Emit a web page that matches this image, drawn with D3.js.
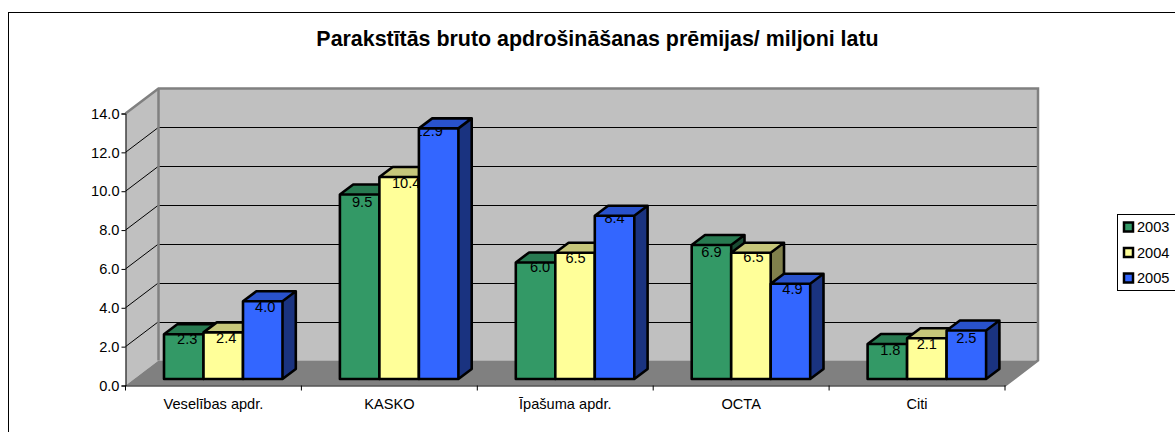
<!DOCTYPE html>
<html>
<head>
<meta charset="utf-8">
<title>Parakstītās bruto apdrošināšanas prēmijas</title>
<script src="https://cdn.jsdelivr.net/npm/d3@7"></script>
<style>
  html, body { margin: 0; padding: 0; background: #fff; overflow: hidden; }
  text { font-family: "Liberation Sans", Arial, sans-serif; fill: #000; }
</style>
</head>
<body>
<script>
/*
		CHART DATA
*/
var chartTitle = "Parakstītās bruto apdrošināšanas prēmijas/ miljoni latu";
var categories = ["Veselības apdr.", "KASKO", "Īpašuma apdr.", "OCTA", "Citi"];
var years = ["2003", "2004", "2005"];
var values2003 = [2.3, 9.5, 6.0, 6.9, 1.8];
var values2004 = [2.4, 10.4, 6.5, 6.5, 2.1];
var values2005 = [4.0, 12.9, 8.4, 4.9, 2.5];
var yTicks = [0, 2, 4, 6, 8, 10, 12, 14];

/*
		GLOBAL LAYOUT CONSTANTS
*/
var width = 1175;
var height = 432;
var plot = {left: 125.5, right: 1005, front: 385.5, top: 113.5};
var wallDepth = {x: 33, y: 25};   //floor/wall offset of the 3d box
var barDepth = {x: 13.3, y: 10};
var barFloor = 6.5;               //bars stand a bit behind the front edge
var fontSize = "14.6px";

//excel put the data labels a little off centre, [dx, dy] from bar front centre / top
var labelNudge = [
	[[3.5, 4.5], [2.5, 7], [4.5, 4], [0, 7], [3, 5.5]],
	[[3, 5], [7, 6], [0.5, 5], [2.5, 4], [0, 5.5]],
	[[2.5, 5.6], [-10, 2], [0, 1.5], [2, 4.7], [0, 7]]
];

var seriesValues = [values2003, values2004, values2005];
var fronts = ["#339966", "#FFFF99", "#3366FF"];
var tops = ["#287A51", "#C6C67A", "#2952CC"];
var sides = ["#1A4C33", "#80804C", "#1A3380"];

/*
		SCALES
*/
var x = d3.scaleBand().domain(categories).range([plot.left, plot.right]);
var inner = d3.scaleBand().domain(years).range([38.5, 157]);
var y = d3.scaleLinear().domain([0, 14]).range([plot.front, plot.top]);

var svg = d3.select("body").append("svg")
	.attr("width", width)
	.attr("height", height)
	.style("display", "block");

function pts(list) {
	return list.map(function(p) { return p[0] + "," + p[1]; }).join(" ");
}

//chart area frame, runs off the page on the right and bottom
svg.append("rect")
	.attr("x", 8.5).attr("y", 12.5)
	.attr("width", 1300).attr("height", 600)
	.attr("fill", "#fff").attr("stroke", "#000");

svg.append("text")
	.attr("x", 597.5).attr("y", 45.5)
	.attr("text-anchor", "middle")
	.style("font-size", "21.4px").style("font-weight", "bold")
	.text(chartTitle);

/*
		WALLS AND FLOOR
*/
var backLeft = plot.left + wallDepth.x;
var backRight = plot.right + wallDepth.x;
var backTop = y(14) - wallDepth.y;
var backBottom = y(0) - wallDepth.y;

svg.append("polygon")
	.attr("points", pts([[plot.left, y(14)], [backLeft, backTop], [backRight, backTop], [backRight, backBottom], [backLeft, backBottom], [plot.left, y(0)]]))
	.attr("fill", "#C0C0C0");

svg.append("polygon")
	.attr("points", pts([[plot.left, y(0)], [backLeft, backBottom], [backRight, backBottom], [plot.right, y(0)]]))
	.attr("fill", "#808080");

//grid lines, back wall and left wall
svg.append("g").selectAll("line.back")
	.data(yTicks.slice(1, -1))
	.enter().append("line")
	.attr("x1", backLeft).attr("x2", backRight)
	.attr("y1", function(d) { return Math.round(y(d) - wallDepth.y) + 0.5; })
	.attr("y2", function(d) { return Math.round(y(d) - wallDepth.y) + 0.5; })
	.attr("stroke", "#000");

svg.append("g").selectAll("line.side")
	.data(yTicks.slice(1, -1))
	.enter().append("line")
	.attr("x1", plot.left).attr("x2", backLeft)
	.attr("y1", function(d) { return y(d); })
	.attr("y2", function(d) { return y(d) - wallDepth.y; })
	.attr("stroke", "#000");

//wall edges
svg.append("path")
	.attr("d", "M" + plot.left + "," + y(14) + "L" + backLeft + "," + backTop + "H" + backRight + "V" + backBottom + "L" + plot.right + "," + y(0))
	.attr("fill", "none").attr("stroke", "#808080").attr("stroke-width", 2.5);
svg.append("line")
	.attr("x1", backLeft).attr("x2", backLeft)
	.attr("y1", backTop).attr("y2", backBottom)
	.attr("stroke", "#808080").attr("stroke-width", 2.5);

/*
		BARS
*/
var defs = svg.append("defs");

categories.forEach(function(cat, c) {
	years.forEach(function(yr, s) {
		var v = seriesValues[s][c];
		var x0 = x(cat) + inner(yr);
		var x1 = x0 + inner.bandwidth();
		var yb = y(0) - barFloor;
		var yt = y(v) - barFloor;
		var bar = svg.append("g");

		bar.append("polygon")
			.attr("points", pts([[x1, yt], [x1 + barDepth.x, yt - barDepth.y], [x1 + barDepth.x, yb - barDepth.y], [x1, yb]]))
			.attr("fill", sides[s]);
		bar.append("polygon")
			.attr("points", pts([[x0, yt], [x0 + barDepth.x, yt - barDepth.y], [x1 + barDepth.x, yt - barDepth.y], [x1, yt]]))
			.attr("fill", tops[s]);
		bar.append("rect")
			.attr("x", x0).attr("y", yt)
			.attr("width", x1 - x0).attr("height", yb - yt)
			.attr("fill", fronts[s]);

		//label stays on the front face, that is why 12.9 loses its first digit
		var clipId = "clip-" + s + "-" + c;
		defs.append("clipPath").attr("id", clipId)
			.append("rect")
			.attr("x", x0).attr("y", yt)
			.attr("width", x1 - x0).attr("height", yb - yt);
		bar.append("g").attr("clip-path", "url(#" + clipId + ")")
			.append("text")
			.attr("x", (x0 + x1) / 2 + labelNudge[s][c][0])
			.attr("y", yt + labelNudge[s][c][1])
			.attr("dy", "0.36em")
			.attr("text-anchor", "middle")
			.style("font-size", fontSize)
			.text(v.toFixed(1));

		//outlines go on top of the label
		bar.append("path")
			.attr("d", "M" + x0 + "," + yt + "L" + (x0 + barDepth.x) + "," + (yt - barDepth.y) + "H" + (x1 + barDepth.x) + "V" + (yb - barDepth.y) + "L" + x1 + "," + yb + "H" + x0 + "Z"
				+ "M" + x0 + "," + yt + "H" + x1 + "V" + yb
				+ "M" + x1 + "," + yt + "L" + (x1 + barDepth.x) + "," + (yt - barDepth.y))
			.attr("fill", "none").attr("stroke", "#000").attr("stroke-width", 2.6)
			.attr("stroke-linejoin", "round");
	});
});

/*
		AXES
*/
var yAxis = svg.append("g")
	.attr("transform", "translate(" + plot.left + ",0)")
	.call(d3.axisLeft(y).tickValues(yTicks).tickFormat(d3.format(".1f")).tickSize(4).tickPadding(2));
var xAxis = svg.append("g")
	.attr("transform", "translate(0," + y(0) + ")")
	.call(d3.axisBottom(x).tickSize(0).tickPadding(13));

[yAxis, xAxis].forEach(function(a) {
	a.attr("font-family", null);
	a.selectAll("text").style("font-size", fontSize);
	a.selectAll("path, line").attr("stroke", "#000");
});

//category separators sit between the bands, not on the band centres
xAxis.selectAll("line.sep")
	.data(d3.range(categories.length + 1))
	.enter().append("line")
	.attr("class", "sep")
	.attr("x1", function(i) { return plot.left + i * x.bandwidth(); })
	.attr("x2", function(i) { return plot.left + i * x.bandwidth(); })
	.attr("y1", 0).attr("y2", 5)
	.attr("stroke", "#000");

/*
		LEGEND
*/
var legend = svg.append("g");
legend.append("rect")
	.attr("x", 1117.5).attr("y", 214.5)
	.attr("width", 100).attr("height", 76)
	.attr("fill", "#fff").attr("stroke", "#000");

var legendY = d3.scalePoint().domain(years).range([227, 278]);
years.forEach(function(yr, s) {
	legend.append("rect")
		.attr("x", 1124).attr("y", legendY(yr) - 4.5)
		.attr("width", 9).attr("height", 9)
		.attr("fill", fronts[s]).attr("stroke", "#000").attr("stroke-width", 2.5);
	legend.append("text")
		.attr("x", 1137).attr("y", legendY(yr))
		.attr("dy", "0.36em")
		.style("font-size", fontSize)
		.text(yr);
});
</script>
</body>
</html>
